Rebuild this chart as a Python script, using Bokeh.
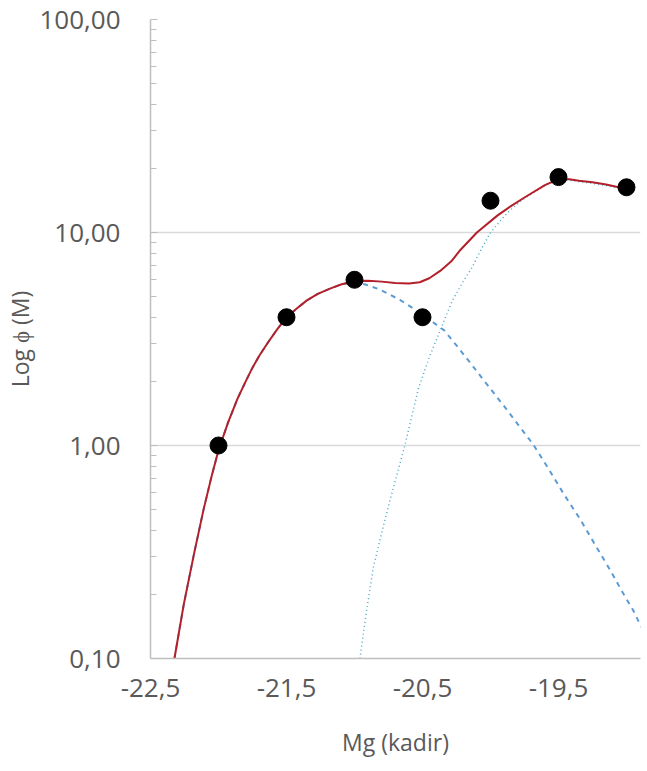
from bokeh.plotting import figure
from bokeh.models import Range1d, FixedTicker
from bokeh.embed import file_html
from bokeh.resources import INLINE

# observed points
obs_mag = [-22.0, -21.5, -21.0, -20.5, -20.0, -19.5, -19.0]
obs_phi = [1.0, 4.0, 6.0, 4.0, 14.1, 18.2, 16.3]

# total fit (red)
total_mag = [-22.324, -22.255, -22.18, -22.11, -22.05, -22.0, -21.93, -21.86, -21.8, -21.75,
             -21.7, -21.64, -21.57, -21.5, -21.42, -21.35, -21.27, -21.18, -21.1, -21.0,
             -20.9, -20.8, -20.7, -20.6, -20.52, -20.45, -20.37, -20.29, -20.22, -20.1,
             -19.95, -19.85, -19.75, -19.6, -19.5, -19.42, -19.35, -19.25, -19.15, -19.0]
total_phi = [0.1, 0.18, 0.31, 0.5, 0.72, 0.95, 1.28, 1.66, 2.0, 2.32,
             2.64, 3.02, 3.5, 4.0, 4.42, 4.8, 5.15, 5.45, 5.7, 5.92,
             5.94, 5.88, 5.8, 5.76, 5.84, 6.1, 6.6, 7.3, 8.3, 10.0,
             12.0, 13.3, 14.6, 16.7, 17.8, 17.8, 17.5, 17.2, 16.8, 16.0]

# bright component (dashed)
bright_mag = [-22.324, -22.255, -22.18, -22.11, -22.05, -22.0, -21.93, -21.86, -21.8, -21.75,
              -21.7, -21.64, -21.57, -21.5, -21.42, -21.35, -21.27, -21.18, -21.1, -21.0,
              -20.92, -20.83, -20.75, -20.66, -20.58, -20.5, -20.42, -20.34, -20.25, -20.15,
              -20.03, -19.9, -19.8, -19.69, -19.58, -19.46, -19.34, -19.22, -19.12, -19.02,
              -18.95, -18.89]
bright_phi = [0.1, 0.18, 0.31, 0.5, 0.72, 0.95, 1.28, 1.66, 2.0, 2.32,
              2.64, 3.02, 3.5, 4.0, 4.42, 4.8, 5.15, 5.45, 5.7, 5.85,
              5.7, 5.45, 5.15, 4.8, 4.45, 4.1, 3.78, 3.47, 2.95, 2.45,
              1.95, 1.53, 1.26, 1.02, 0.79, 0.59, 0.45, 0.333, 0.26, 0.2,
              0.168, 0.14]

# faint component (dotted)
faint_mag = [-20.96, -20.91, -20.86, -20.8, -20.74, -20.68, -20.63, -20.58, -20.53, -20.45,
             -20.37, -20.28, -20.2, -20.135, -20.07, -20.0, -19.88, -19.77, -19.66, -19.58,
             -19.53, -19.45, -19.34, -19.25, -19.15, -19.0]
faint_phi = [0.1, 0.17, 0.27, 0.39, 0.55, 0.76, 1.0, 1.36, 1.85, 2.6,
             3.47, 4.8, 5.9, 6.87, 8.3, 10.0, 12.3, 14.2, 15.7, 16.9,
             17.4, 17.7, 17.3, 17.0, 16.6, 15.9]

y_ticks = [0.1, 1, 10, 100]
y_labels = ["0,10", "1,00", "10,00", "100,00"]
y_minor = [m * d for d in (0.1, 1, 10) for m in range(2, 10)]
x_ticks = [-22.5, -21.5, -20.5, -19.5]
x_labels = ["-22,5", "-21,5", "-20,5", "-19,5"]

FONT = "Open Sans"
GRAY = "#595959"

p = figure(width=645, height=765, y_axis_type="log",
           x_range=Range1d(-22.5, -18.897), y_range=Range1d(0.1, 100),
           output_backend="svg", toolbar_location=None,
           min_border_left=150, min_border_right=5, min_border_top=19, min_border_bottom=107)
p.outline_line_color = None
p.background_fill_color = "white"

p.xgrid.visible = False
p.ygrid.ticker = FixedTicker(ticks=[1, 10])
p.ygrid.grid_line_color = "#d9d9d9"
p.ygrid.grid_line_width = 1.5

p.yaxis.ticker = FixedTicker(ticks=y_ticks, minor_ticks=y_minor)
p.yaxis.major_label_overrides = dict(zip(y_ticks, y_labels))
p.yaxis.axis_line_color = "#bfbfbf"
p.yaxis.axis_line_width = 1.5
p.yaxis.major_tick_in = 7
p.yaxis.major_tick_out = 0
p.yaxis.minor_tick_in = 6
p.yaxis.minor_tick_out = 0
p.yaxis.major_tick_line_color = "#bfbfbf"
p.yaxis.minor_tick_line_color = "#bfbfbf"
p.yaxis.major_label_standoff = 30
p.yaxis.axis_label = "Log ϕ (M)"
p.yaxis.axis_label_standoff = 0

p.xaxis.ticker = FixedTicker(ticks=x_ticks, minor_ticks=[])
p.xaxis.major_label_overrides = dict(zip(x_ticks, x_labels))
p.xaxis.axis_line_color = "#bfbfbf"
p.xaxis.axis_line_width = 1.5
p.xaxis.major_tick_in = 0
p.xaxis.major_tick_out = 0
p.xaxis.major_label_standoff = 20
p.xaxis.axis_label = "Mg (kadir)"
p.xaxis.axis_label_standoff = 26

for ax in (p.xaxis, p.yaxis):
    ax.major_label_text_font = FONT
    ax.major_label_text_font_size = "26px"
    ax.major_label_text_color = GRAY
    ax.axis_label_text_font = FONT
    ax.axis_label_text_font_size = "23px"
    ax.axis_label_text_font_style = "normal"
    ax.axis_label_text_color = GRAY

p.line(bright_mag, bright_phi, line_color="#5b9bd5", line_width=2, line_dash="5 5")
p.line(faint_mag, faint_phi, line_color="#4bacc6", line_width=1.5, line_dash="1 3")
p.line(total_mag, total_phi, line_color="#b3202a", line_width=2)
p.scatter(obs_mag, obs_phi, size=17, fill_color="black", line_color="black")

open("out.html", "w").write(file_html(p, INLINE))
